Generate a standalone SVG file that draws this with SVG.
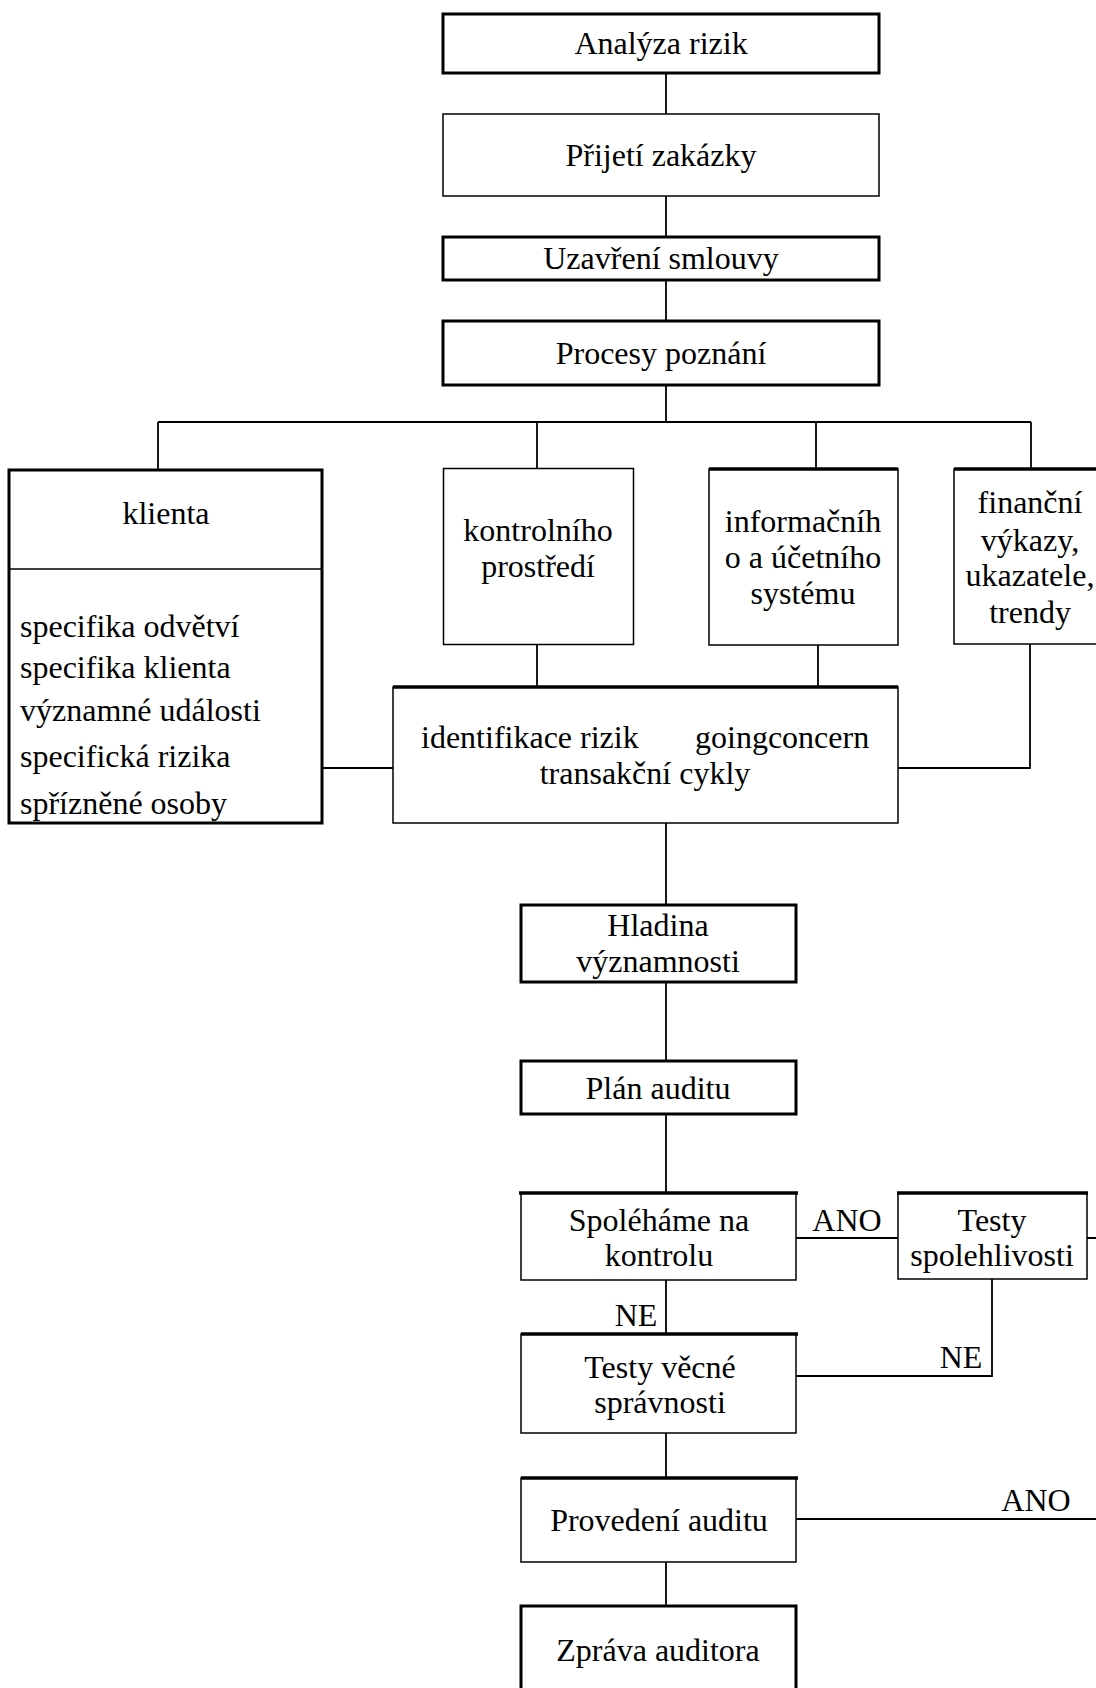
<svg xmlns="http://www.w3.org/2000/svg" width="1096" height="1688" viewBox="0 0 1096 1688">
<style>
text{font-family:"Liberation Serif","Times New Roman",serif;font-size:32px;fill:#000}
.c{text-anchor:middle}
.thick{fill:#fff;stroke:#000;stroke-width:3}
.thin{fill:#fff;stroke:#000;stroke-width:1.5}
.top{stroke:#000;stroke-width:3.5}
.conn{fill:none;stroke:#000;stroke-width:1.8}
</style>
<rect width="1096" height="1688" fill="#fff"/>
<g id="connectors" class="conn">
<path d="M666 73V114M666 196V237M666 280V321M666 385V422"/>
<path d="M158 422H1031M158 422V470M537 422V469M816 422V469M1031 422V469"/>
<path d="M537 645V687M818 645V687"/>
<path d="M322 768H393M898 768H1030V644"/>
<path d="M666 823V905M666 982V1061M666 1114V1193M666 1280V1334M666 1433V1478M666 1562V1606"/>
<path d="M796 1238H898M1087 1238H1096"/>
<path d="M992 1279V1376H796"/>
<path d="M796 1519H1096"/>
</g>
<g id="analyza"><rect class="thick" x="443" y="14" width="436" height="59"/><text class="c" x="661" y="54">Analýza rizik</text></g>
<g id="prijeti"><rect class="thin" x="443" y="114" width="436" height="82"/><text class="c" x="661" y="166">Přijetí zakázky</text></g>
<g id="uzavreni"><rect class="thick" x="443" y="237" width="436" height="43"/><text class="c" x="661" y="269">Uzavření smlouvy</text></g>
<g id="procesy"><rect class="thick" x="443" y="321" width="436" height="64"/><text class="c" x="661" y="364">Procesy poznání</text></g>
<g id="klienta"><rect class="thick" x="9" y="470" width="313" height="353"/><line x1="9" y1="569" x2="322" y2="569" stroke="#000" stroke-width="1.5"/>
<text class="c" x="166" y="524">klienta</text>
<text x="20" y="637">specifika odvětví</text>
<text x="20" y="678">specifika klienta</text>
<text x="20" y="721">významné události</text>
<text x="20" y="767">specifická rizika</text>
<text x="20" y="814">spřízněné osoby</text></g>
<g id="kontrolniho"><rect class="thin" x="443.5" y="468.5" width="190" height="176"/><text class="c" x="538" y="541">kontrolního</text><text class="c" x="538" y="577">prostředí</text></g>
<g id="informacniho"><rect class="thin" x="709" y="469" width="189" height="176"/><line class="top" x1="709" y1="469" x2="898" y2="469"/><text class="c" x="803" y="532">informačníh</text><text class="c" x="803" y="568">o a účetního</text><text class="c" x="803" y="604">systému</text></g>
<g id="financni"><rect class="thin" x="954" y="469" width="160" height="175" stroke-width="2"/><line class="top" x1="954" y1="469" x2="1096" y2="469"/><text class="c" x="1030" y="513">finanční</text><text class="c" x="1030" y="551">výkazy,</text><text class="c" x="1030" y="586">ukazatele,</text><text class="c" x="1030" y="623">trendy</text></g>
<g id="identifikace"><rect class="thin" x="393" y="687" width="505" height="136"/><line class="top" x1="393" y1="687" x2="898" y2="687"/><text x="421" y="748">identifikace rizik</text><text x="695" y="748">goingconcern</text><text class="c" x="645" y="784">transakční cykly</text></g>
<g id="hladina"><rect class="thick" x="521" y="905" width="275" height="77"/><text class="c" x="658" y="936">Hladina</text><text class="c" x="658" y="972">významnosti</text></g>
<g id="plan"><rect class="thick" x="521" y="1061" width="275" height="53"/><text class="c" x="658" y="1099">Plán auditu</text></g>
<g id="spoleha"><rect class="thin" x="521" y="1193" width="275" height="87"/><line class="top" x1="519" y1="1193" x2="798" y2="1193"/><text class="c" x="659" y="1231">Spoléháme na</text><text class="c" x="659" y="1266">kontrolu</text></g>
<g id="testy-spol"><rect class="thin" x="898" y="1193" width="189" height="86"/><line class="top" x1="897" y1="1193" x2="1088" y2="1193"/><text class="c" x="992" y="1231">Testy</text><text class="c" x="992" y="1266">spolehlivosti</text></g>
<g id="testy-vecne"><rect class="thin" x="521" y="1334" width="275" height="99"/><line class="top" x1="521" y1="1334" x2="798" y2="1334"/><text class="c" x="660" y="1378">Testy věcné</text><text class="c" x="660" y="1413">správnosti</text></g>
<g id="provedeni"><rect class="thin" x="521" y="1478" width="275" height="84"/><line class="top" x1="521" y1="1478" x2="798" y2="1478"/><text class="c" x="659" y="1531">Provedení auditu</text></g>
<g id="zprava"><rect class="thick" x="521" y="1606" width="275" height="100"/><text class="c" x="658" y="1661">Zpráva auditora</text></g>
<g id="labels">
<text class="c" x="847" y="1231">ANO</text>
<text class="c" x="636" y="1326">NE</text>
<text class="c" x="961" y="1368">NE</text>
<text class="c" x="1036" y="1511">ANO</text>
</g>
</svg>
